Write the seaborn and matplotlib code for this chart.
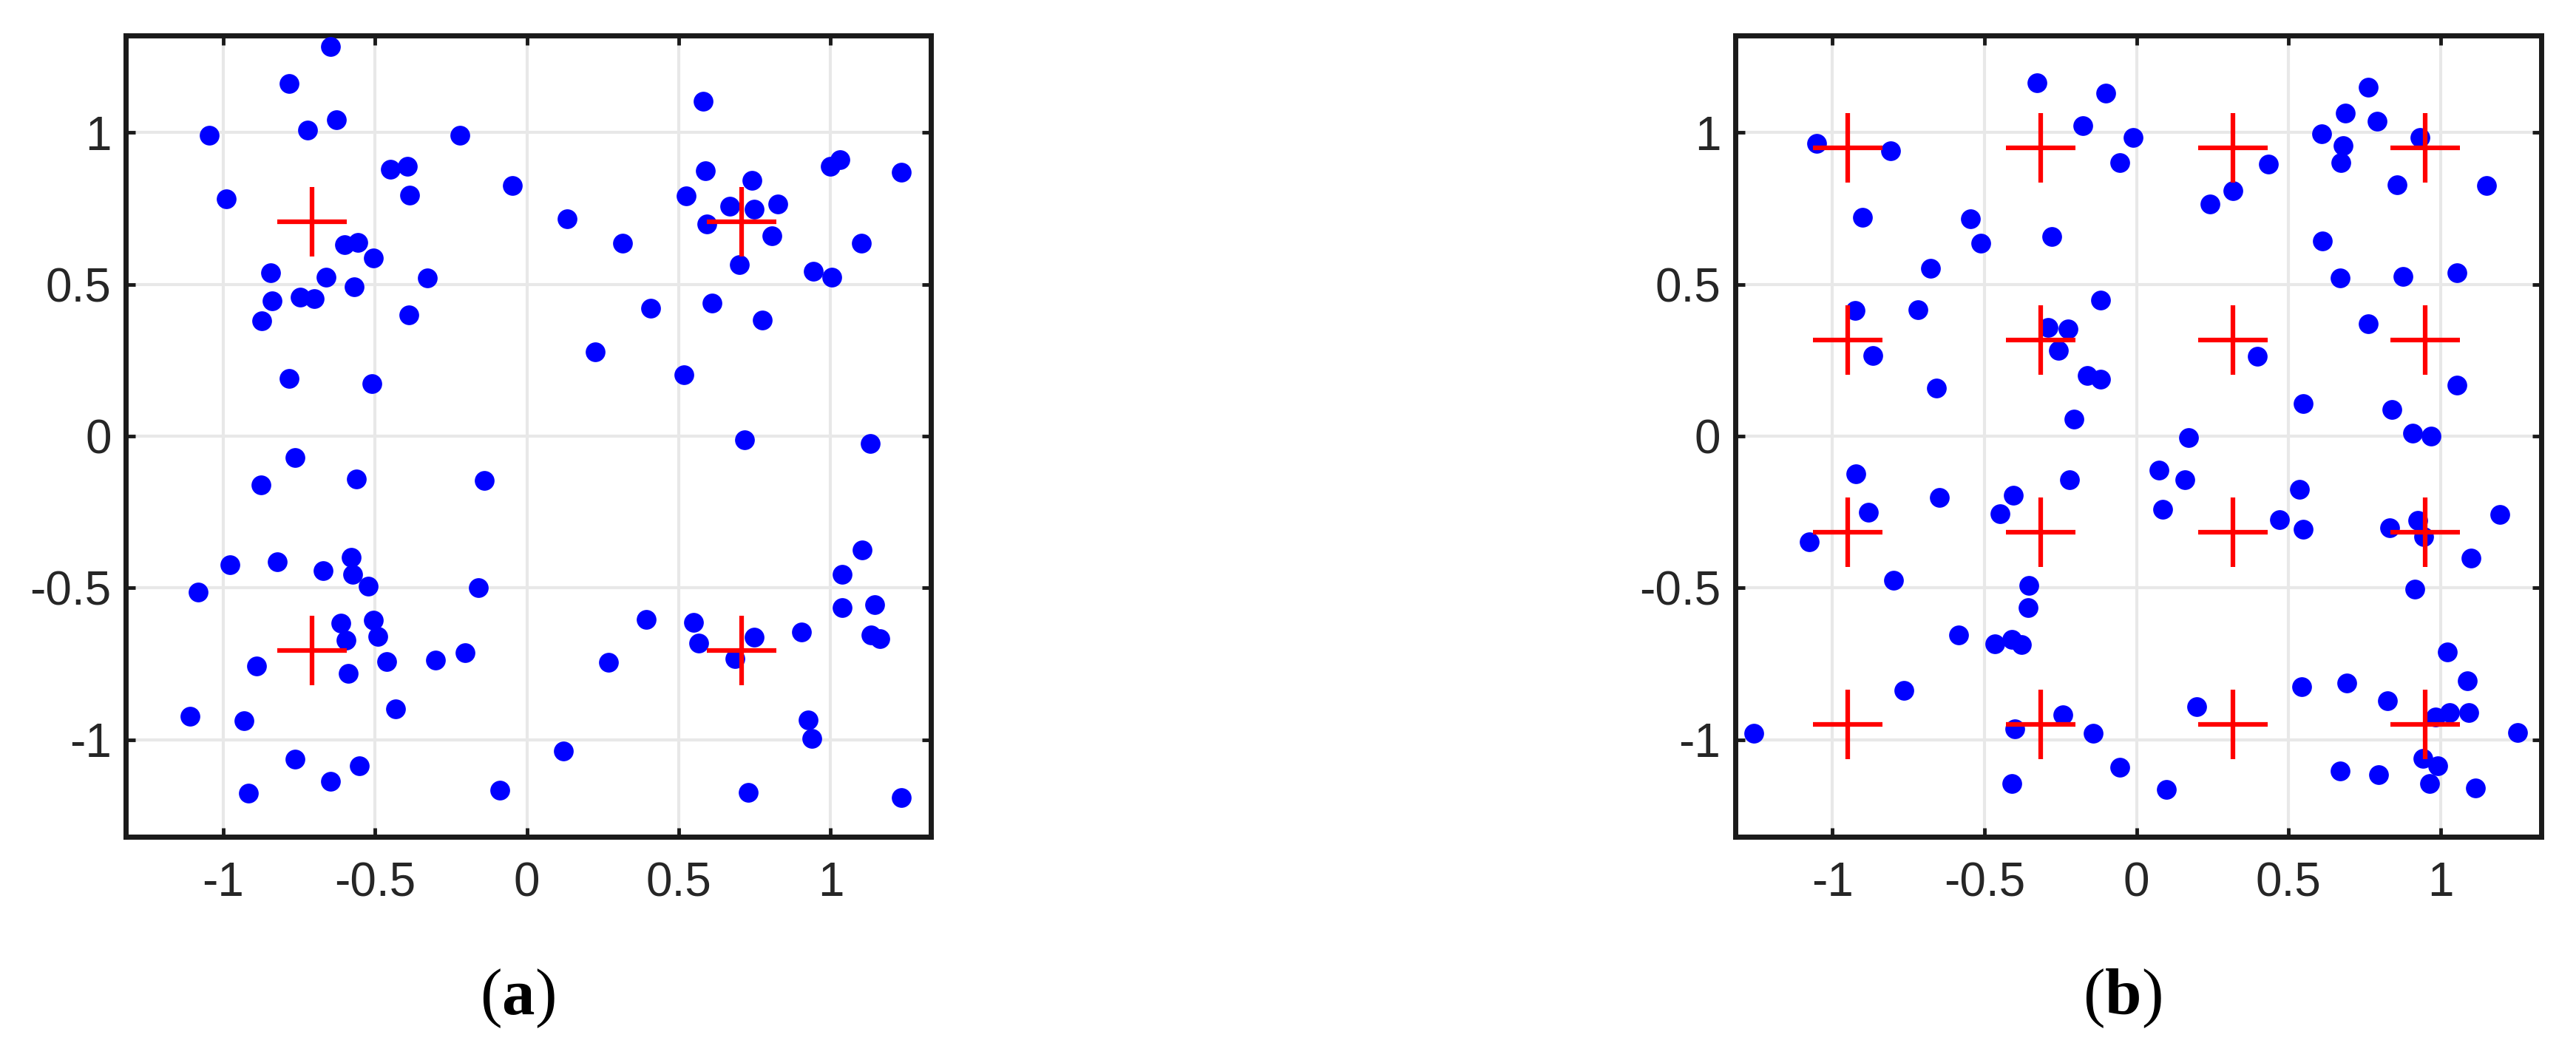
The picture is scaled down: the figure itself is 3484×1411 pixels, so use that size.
import numpy as np
import seaborn as sns
import matplotlib.pyplot as plt
from matplotlib.ticker import FixedLocator, FuncFormatter

# --- DATA ---
# (a) received symbols, 4-QAM
qpsk_x = [-0.647, -0.782, -1.046, -0.721, -0.627, -0.220, -0.448, -0.392, -0.048, -0.990,
          -0.385, -0.600, -0.556, -0.506, -0.844, -0.660, -0.569, -0.327, -0.838, -0.747,
          -0.699, -0.873, -0.387, -0.782, -0.509,
          0.581, 0.133, 0.588, 0.524, 0.741, 0.667, 0.748, 0.825, 0.592, 0.807,
          0.316, 0.700, 1.000, 1.030, 1.232, 1.100, 0.943, 1.004, 0.408, 0.610,
          0.776, 0.224, 0.516,
          -0.764, -0.874, -0.561, -0.140, -0.977, -0.821, -0.671, -0.578, -0.574, -0.522,
          -1.081, -0.159, -0.613, -0.595, -0.504, -0.491, -0.890, -0.587, -0.461, -0.300,
          -0.203, -0.433, -1.109, -0.931, -0.764, -0.552, -0.647, -0.916, -0.088,
          0.717, 1.130, 1.103, 1.038, 1.038, 1.145, 0.392, 0.548, 0.566, 0.748,
          0.684, 0.904, 1.132, 1.162, 0.269, 0.925, 0.939, 0.120, 0.728, 1.232]
qpsk_y = [1.283, 1.161, 0.990, 1.009, 1.042, 0.990, 0.878, 0.889, 0.826, 0.781,
          0.793, 0.630, 0.639, 0.587, 0.539, 0.523, 0.493, 0.522, 0.445, 0.457,
          0.452, 0.381, 0.400, 0.191, 0.172,
          1.103, 0.717, 0.874, 0.791, 0.843, 0.757, 0.748, 0.765, 0.700, 0.661,
          0.635, 0.565, 0.890, 0.910, 0.870, 0.635, 0.543, 0.523, 0.422, 0.439,
          0.383, 0.278, 0.202,
          -0.071, -0.160, -0.141, -0.146, -0.423, -0.414, -0.444, -0.400, -0.456, -0.494,
          -0.513, -0.499, -0.616, -0.673, -0.607, -0.659, -0.757, -0.781, -0.743, -0.738,
          -0.713, -0.898, -0.922, -0.938, -1.063, -1.085, -1.138, -1.176, -1.167,
          -0.012, -0.025, -0.376, -0.456, -0.564, -0.555, -0.605, -0.614, -0.682, -0.663,
          -0.734, -0.646, -0.654, -0.668, -0.746, -0.934, -0.997, -1.038, -1.174, -1.190]
qpsk_ref_x = [-0.707, 0.707, -0.707, 0.707]
qpsk_ref_y = [0.707, 0.707, -0.707, -0.707]

# (b) received symbols, 16-QAM
qam_x = [-1.053, -0.808, -0.902, -0.547, -0.512, -0.677, -0.926, -0.720, -0.868, -0.658,
         -0.327, -0.101, -0.177, -0.279, -0.119, -0.290, -0.226, -0.258, -0.161, -0.119,
         -0.205,
         -0.012, -0.055, 0.434, 0.318, 0.242, 0.761, 0.686, 0.792, 0.608, 0.679,
         0.672, 0.931, 0.856, 1.151, 0.610, 0.670, 0.877, 1.054, 0.761, 0.396,
         0.547, 1.054, 0.840,
         -0.923, -0.882, -1.076, -0.649, -0.799, -0.406, -0.449, -0.221, -0.353, -0.357,
         -0.586, -0.466, -0.410, -0.378, -0.766, -1.258, -0.401, -0.242, -0.142, -0.410,
         0.170, 0.908, 0.969, 0.073, 0.160, 0.087, 0.535, 0.469, 0.547, 0.832,
         0.926, 0.945, 1.195, 1.101, 0.915, 1.021, 1.087, 0.544, 0.691, 0.825,
         0.983, 1.030, 1.092, 1.252, 0.198, -0.055, 0.099, 0.670, 0.796, 0.941,
         0.991, 0.964, 1.115]
qam_y = [0.965, 0.941, 0.720, 0.715, 0.635, 0.552, 0.413, 0.417, 0.265, 0.158,
         1.163, 1.130, 1.024, 0.657, 0.448, 0.357, 0.352, 0.283, 0.200, 0.187,
         0.057,
         0.983, 0.900, 0.896, 0.809, 0.765, 1.150, 1.065, 1.037, 0.996, 0.957,
         0.900, 0.983, 0.828, 0.826, 0.643, 0.520, 0.526, 0.539, 0.370, 0.263,
         0.106, 0.167, 0.087,
         -0.125, -0.250, -0.349, -0.203, -0.476, -0.195, -0.255, -0.144, -0.491, -0.566,
         -0.654, -0.684, -0.670, -0.686, -0.837, -0.978, -0.965, -0.918, -0.978, -1.144,
         -0.005, 0.009, 0.000, -0.113, -0.144, -0.241, -0.175, -0.276, -0.308, -0.302,
         -0.278, -0.330, -0.258, -0.403, -0.505, -0.712, -0.807, -0.825, -0.814, -0.873,
         -0.925, -0.910, -0.910, -0.976, -0.892, -1.090, -1.163, -1.104, -1.116, -1.061,
         -1.085, -1.144, -1.158]
qam_levels = [-0.949, -0.316, 0.316, 0.949]
qam_ref_x = [lx for ly in qam_levels for lx in qam_levels]
qam_ref_y = [ly for ly in qam_levels for lx in qam_levels]

TICKS = [-1, -0.5, 0, 0.5, 1]
PANEL_LABELS = ["a", "b"]

# --- STYLE ---
sns.set_theme(style="white")
plt.rcParams["font.family"] = ["Liberation Sans", "DejaVu Sans"]
plt.rcParams["axes.unicode_minus"] = False
plt.rcParams["mathtext.fontset"] = "custom"
plt.rcParams["mathtext.rm"] = "Liberation Serif"
plt.rcParams["mathtext.bf"] = "Liberation Serif:bold"


def draw_panel(ax, xs, ys, rx, ry):
    ax.grid(True, color="#e8e8e8", linewidth=3, zorder=0)
    ax.set_axisbelow(True)
    # received symbols, then the ideal constellation points on top
    sns.scatterplot(x=xs, y=ys, color="#0000ff", s=370, linewidth=0, ax=ax, zorder=3)
    sns.scatterplot(x=rx, y=ry, marker="+", color="#ff0000", s=4600,
                    linewidth=4.5, ax=ax, zorder=4)
    ax.set_xlim(-1.32, 1.33)
    ax.set_ylim(-1.32, 1.32)
    ax.xaxis.set_major_locator(FixedLocator(TICKS))
    ax.yaxis.set_major_locator(FixedLocator(TICKS))
    fmt = FuncFormatter(lambda v, p: f"{v:g}")
    ax.xaxis.set_major_formatter(fmt)
    ax.yaxis.set_major_formatter(fmt)
    ax.tick_params(axis="both", direction="in", length=9, width=3.5, color="#1a1a1a",
                   labelsize=46, labelcolor="#262626", top=True, right=True,
                   bottom=True, left=True)
    ax.tick_params(axis="x", pad=24)
    ax.tick_params(axis="y", pad=14)
    for sp in ax.spines.values():
        sp.set_visible(True)
        sp.set_color("#1a1a1a")
        sp.set_linewidth(5)
    ax.set_xlabel("")
    ax.set_ylabel("")


fig = plt.figure(figsize=(34.84, 14.11), dpi=100)
fig.patch.set_facecolor("white")

ax_a = fig.add_axes([0.0488, 0.1977, 0.3126, 0.7683])
ax_b = fig.add_axes([0.6736, 0.1977, 0.3128, 0.7683])

draw_panel(ax_a, qpsk_x, qpsk_y, qpsk_ref_x, qpsk_ref_y)
draw_panel(ax_b, qam_x, qam_y, qam_ref_x, qam_ref_y)

for xpos, lab in zip([0.201, 0.824], PANEL_LABELS):
    fig.text(xpos, 0.043, rf"($\mathbf{{{lab}}}$)", ha="center", va="center",
             fontsize=64, family="Liberation Serif", color="black")

fig.savefig("out.png", dpi=100, facecolor="white")
plt.close(fig)
